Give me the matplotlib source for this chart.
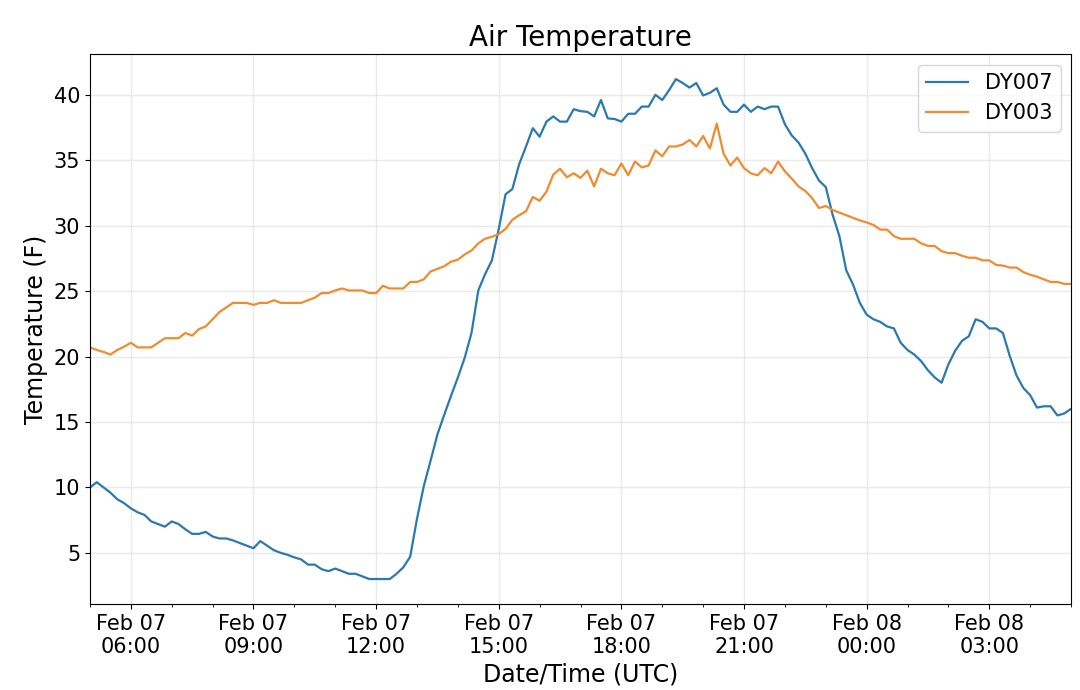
import numpy as np
import pandas as pd
import matplotlib
matplotlib.use('Agg')
import matplotlib.pyplot as plt
import matplotlib.dates as mdates

# 10-minute readings, Feb 07 05:00 -> Feb 08 05:00 (UTC)
times = pd.date_range('2019-02-07 05:00', '2019-02-08 05:00', freq='10min')

dy007 = [
    10.0, 10.4, 10.0, 9.6, 9.1, 8.8,
    8.4, 8.1, 7.9, 7.4, 7.2, 7.0,
    7.4, 7.2, 6.8, 6.45, 6.45, 6.6,
    6.25, 6.1, 6.1, 5.95, 5.75, 5.55,
    5.35, 5.9, 5.55, 5.2, 5.0, 4.85,
    4.65, 4.5, 4.1, 4.1, 3.75, 3.6,
    3.8, 3.6, 3.4, 3.4, 3.2, 3.0,
    3.0, 3.0, 3.0, 3.4, 3.9, 4.7,
    7.6, 10.1, 12.05, 14.05, 15.55, 17.0,
    18.4, 19.9, 21.8, 25.05, 26.3, 27.35,
    29.75, 32.4, 32.8, 34.7, 36.05, 37.45,
    36.8, 37.95, 38.35, 37.95, 37.95, 38.9,
    38.75, 38.7, 38.35, 39.6, 38.2, 38.15,
    37.95, 38.55, 38.55, 39.1, 39.1, 40.0,
    39.6, 40.35, 41.2, 40.9, 40.55, 40.9,
    39.95, 40.15, 40.5, 39.25, 38.7, 38.7,
    39.25, 38.7, 39.1, 38.9, 39.1, 39.1,
    37.75, 36.9, 36.35, 35.5, 34.4, 33.45,
    32.95, 30.85, 29.2, 26.6, 25.5, 24.1,
    23.2, 22.85, 22.65, 22.3, 22.15, 21.05,
    20.5, 20.15, 19.65, 18.95, 18.4, 18.0,
    19.4, 20.45, 21.2, 21.55, 22.85, 22.65,
    22.15, 22.15, 21.8, 20.05, 18.55, 17.6,
    17.05, 16.1, 16.2, 16.2, 15.5, 15.65,
    16.0,
]

dy003 = [
    20.7, 20.5, 20.35, 20.15, 20.5, 20.75,
    21.05, 20.7, 20.7, 20.7, 21.05, 21.4,
    21.4, 21.4, 21.8, 21.6, 22.1, 22.3,
    22.85, 23.4, 23.75, 24.1, 24.1, 24.1,
    23.95, 24.1, 24.1, 24.3, 24.1, 24.1,
    24.1, 24.1, 24.3, 24.5, 24.85, 24.85,
    25.05, 25.2, 25.05, 25.05, 25.05, 24.85,
    24.85, 25.4, 25.2, 25.2, 25.2, 25.7,
    25.7, 25.9, 26.5, 26.7, 26.9, 27.25,
    27.4, 27.8, 28.1, 28.65, 29.0, 29.15,
    29.35, 29.75, 30.45, 30.8, 31.1, 32.2,
    31.9, 32.6, 33.9, 34.35, 33.7, 34.0,
    33.65, 34.2, 33.0, 34.35, 34.0, 33.85,
    34.75, 33.85, 34.9, 34.45, 34.6, 35.75,
    35.3, 36.05, 36.05, 36.2, 36.55, 36.05,
    36.85, 35.9, 37.8, 35.5, 34.6, 35.2,
    34.4, 34.0, 33.85, 34.4, 34.0, 34.9,
    34.15, 33.6, 33.0, 32.65, 32.1, 31.35,
    31.5, 31.2, 31.0, 30.8, 30.6, 30.4,
    30.25, 30.05, 29.7, 29.7, 29.2, 29.0,
    29.0, 29.0, 28.65, 28.45, 28.45, 28.05,
    27.9, 27.9, 27.7, 27.55, 27.55, 27.35,
    27.35, 27.0, 26.95, 26.8, 26.8, 26.45,
    26.25, 26.1, 25.9, 25.7, 25.7, 25.55,
    25.55,
]

fig = plt.figure(figsize=(10.8, 6.9), dpi=100)
ax = fig.add_axes([0.0833, 0.1246, 0.9084, 0.797])

ax.plot(times, dy007, color='#2a79b0', lw=1.6, label='DY007')
ax.plot(times, dy003, color='#f18b2e', lw=1.6, label='DY003')

ax.set_xlim(times[0], times[-1])
ax.xaxis.set_major_locator(mdates.HourLocator(byhour=range(0, 24, 3)))
ax.xaxis.set_minor_locator(mdates.HourLocator())
ax.xaxis.set_major_formatter(mdates.DateFormatter('%b %d\n%H:%M'))
ax.tick_params(axis='both', which='major', labelsize=15)
for lbl in ax.get_xticklabels():
    lbl.set_ha('center')

ax.grid(True, which='major', color='#dcdcdc', lw=1, alpha=0.6)
ax.set_title('Air Temperature', fontsize=20)
ax.set_xlabel('Date/Time (UTC)', fontsize=17)
ax.set_ylabel('Temperature (F)', fontsize=17)
ax.legend(loc='upper right', fontsize=15)

fig.savefig('out.png', dpi=100)
